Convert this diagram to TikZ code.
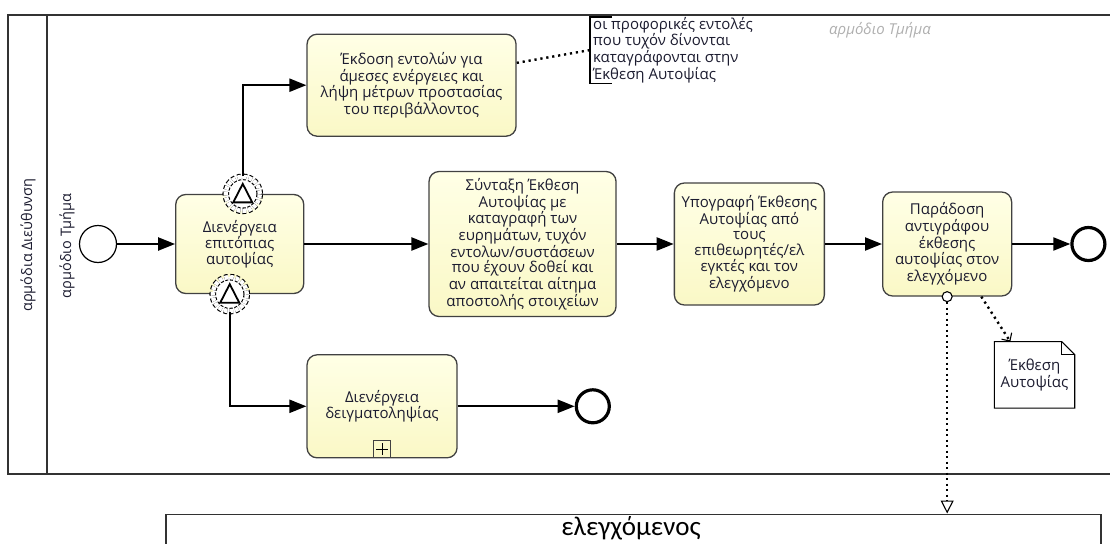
\documentclass[tikz,border=0pt]{standalone}
\usepackage{fontspec}
\setmainfont{Open Sans}
\newfontfamily\calfont{Carlito}
\usetikzlibrary{positioning, arrows.meta}

\definecolor{taskfill}{RGB}{250,248,198}
\definecolor{tasklight}{RGB}{255,255,230}
\definecolor{taskedge}{RGB}{65,65,65}
\definecolor{poolline}{RGB}{50,50,50}
\definecolor{lanegray}{RGB}{175,175,175}
\definecolor{textdark}{RGB}{28,28,48}

\tikzset{
  task/.style={draw=taskedge, line width=1.3pt, rounded corners=10pt,
    top color=tasklight, bottom color=taskfill, align=center, inner sep=2pt,
    text=textdark, font=\fontsize{15}{15.4}\selectfont},
  startev/.style={circle, draw, line width=1.2pt, minimum size=37pt,
    inner sep=0pt, fill=white},
  endev/.style={circle, draw, line width=3.2pt, minimum size=33pt,
    inner sep=0pt, fill=white},
  boundev/.style={circle, draw, dash pattern=on 3.5pt off 2.2pt, double,
    double distance=4.4pt, line width=1.1pt, minimum size=34pt,
    inner sep=0pt, fill=white},
  esc/.style={line width=1.8pt, fill=white, line join=miter},
  flow/.style={line width=2.2pt, -{Triangle[length=17pt, width=13pt]}},
  assoc/.style={line width=2.4pt, dash pattern=on 2.2pt off 3.8pt},
  msg/.style={line width=2.4pt, dash pattern=on 2.2pt off 3.3pt,
    -{Triangle[open, length=13pt, width=13pt, line width=1.1pt, fill=white]}},
  dataflow/.style={line width=2.4pt, dash pattern=on 2.2pt off 3.8pt,
    -{Straight Barb[length=6pt, width=12pt, line width=1.1pt]}},
  pool/.style={draw=poolline, line width=1.6pt},
  lanelabel/.style={text=textdark, font=\fontsize{14.5}{15}\selectfont},
  note/.style={align=left, anchor=north west, inner xsep=3pt, inner ysep=0pt,
    text=textdark, font=\fontsize{15}{14.6}\selectfont},
  dataobj/.style={minimum width=80pt, minimum height=66pt, inner sep=0pt,
    align=center, text=textdark, font=\fontsize{15}{15.4}\selectfont}
}

\begin{document}
\begin{tikzpicture}[x=1pt, y=-1pt]
    \useasboundingbox (0,0) rectangle (1110,543);

    % Pools and lanes
    \draw[pool] (1115,15) -- (8,15) -- (8,474) -- (1115,474);
    \draw[pool] (47,15) -- (47,474);
    \node[lanelabel, rotate=90] (poolname) at (28,245) {αρμόδια Διεύθυνση};
    \node[lanelabel, rotate=90] (lanename) at (67,246) {αρμόδιο Τμήμα};
    \node[text=lanegray, font=\fontsize{15}{16}\selectfont\itshape] (lanefade) at (880,30) {αρμόδιο Τμήμα};

    \node[pool, minimum width=935pt, minimum height=80pt, anchor=north west] (ctrlpool) at (165,513.5) {};
    \node[font=\calfont\fontsize{27}{30}\selectfont, anchor=base] (ctrlname) at (631,535) {ελεγχόμενος};

    % Main row
    \node[startev] (start) at (98,244) {};
    \node[task, minimum width=128pt, minimum height=99pt, right=58pt of start] (t1) {Διενέργεια\\επιτόπιας\\αυτοψίας};
    \node[task, minimum width=187pt, minimum height=145pt, right=124pt of t1] (t3)
        {Σύνταξη Έκθεση\\Αυτοψίας με\\καταγραφή των\\ευρημάτων, τυχόν\\εντολων/συστάσεων\\που έχουν δοθεί και\\αν απαιτείται αίτημα\\αποστολής στοιχείων};
    \node[task, minimum width=150pt, minimum height=122pt, right=57pt of t3] (t5)
        {Υπογραφή Έκθεσης\\Αυτοψίας από\\τους\\επιθεωρητές/ελ\\εγκτές και τον\\ελεγχόμενο};
    \node[task, minimum width=129pt, minimum height=104pt, right=57pt of t5] (t6)
        {Παράδοση\\αντιγράφου\\έκθεσης\\αυτοψίας στον\\ελεγχόμενο};
    \node[endev, right=58pt of t6] (end1) {};

    % Upper and lower branch
    \node[task, minimum width=209pt, minimum height=102pt, above right=57pt and 2pt of t1] (t2)
        {Έκδοση εντολών για\\άμεσες ενέργειες και\\λήψη μέτρων προστασίας\\του περιβάλλοντος};
    \node[task, minimum width=150pt, minimum height=103pt, below right=60pt and 2pt of t1] (t4)
        {Διενέργεια\\δειγματοληψίας};
    \node[draw=taskedge, line width=1pt, minimum size=17pt, inner sep=0pt, anchor=south] (t4mark) at (t4.south) {};
    \draw[line width=1pt, shift={(t4mark.center)}] (-6,0) -- (6,0) (0,-6) -- (0,6);
    \node[endev, right=117pt of t4] (end2) {};

    % Boundary events
    \node[boundev] (bt) at ([xshift=3pt]t1.north) {};
    \draw[esc, shift={(bt.center)}] (-9.5,8.5) -- (0,-10) -- (9.5,8.5) -- cycle;
    \node[boundev] (bb) at ([xshift=-10pt]t1.south) {};
    \draw[esc, shift={(bb.center)}] (-9.5,8.5) -- (0,-10) -- (9.5,8.5) -- cycle;

    % Annotation and data object
    \node[note] (note) at (590,17) {οι προφορικές εντολές\\που τυχόν δίνονται\\καταγράφονται στην\\Έκθεση Αυτοψίας};
    \draw[line width=1.1pt] ([xshift=22pt]note.north west) -- (note.north west) -- (note.south west) -- ([xshift=22pt]note.south west);
    \node[dataobj, below right=45pt and -18pt of t6] (data) {};
    \draw[line width=1.1pt, fill=white] (data.south west) -- (data.north west) -- ([xshift=-13pt]data.north east)
        -- ([yshift=-13pt]data.north east) -- (data.south east) -- cycle;
    \draw[line width=1.1pt] ([xshift=-13pt]data.north east) |- ([yshift=-13pt]data.north east);
    \node[dataobj] (dataname) at (data) {Έκθεση\\Αυτοψίας};

    % Sequence flows
    \draw[flow] (start) -- (t1);
    \draw[flow] (t1) -- (t3);
    \draw[flow] (t3) -- (t5);
    \draw[flow] (t5) -- (t6);
    \draw[flow] (t6) -- (end1);
    \draw[flow] (bt) |- (t2);
    \draw[flow] (bb) |- (t4);
    \draw[flow] (t4) -- (end2);

    % Associations and message
    \draw[assoc] (t2.12) -- (note.west);
    \draw[dataflow] ([xshift=-31pt]t6.south east) -- ([xshift=16pt]data.north west);
    \node[circle, draw, line width=1.1pt, fill=white, minimum size=10pt, inner sep=0pt] (msgsrc) at (t6.south) {};
    \draw[msg] (msgsrc) -- (msgsrc |- ctrlpool.north);

\end{tikzpicture}
\end{document}
